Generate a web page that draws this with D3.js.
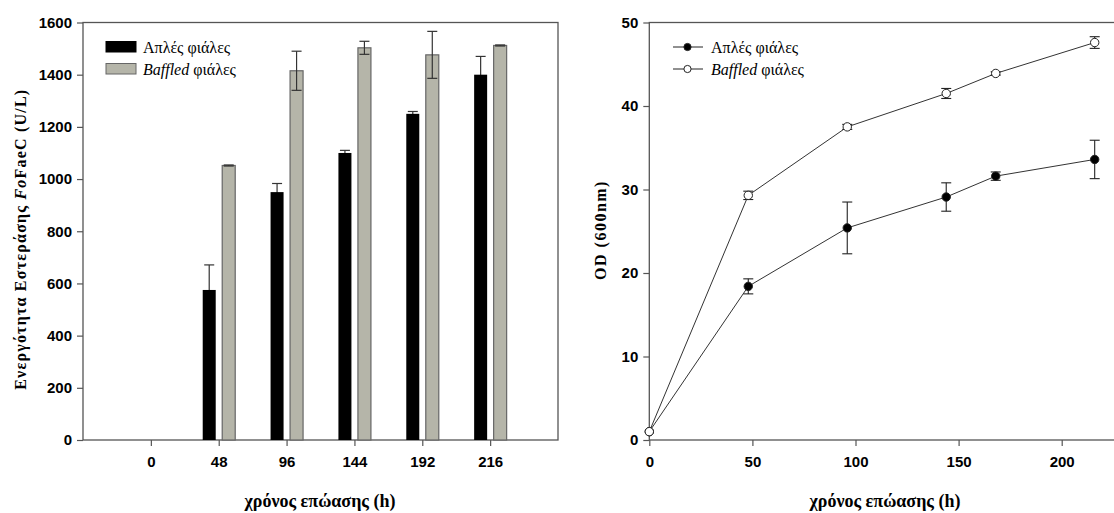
<!DOCTYPE html>
<html>
<head>
<meta charset="utf-8">
<script src="https://cdn.jsdelivr.net/npm/d3@7"></script>
<style>
  body { margin: 0; background: #fff; }
  svg { display: block; }
  .tick text { font-family: "Liberation Sans Narrow", "Arial Narrow", "Liberation Sans", sans-serif; font-weight: bold; font-size: 15px; fill: #000; }
</style>
</head>
<body>
<svg id="chart" width="1114" height="513"></svg>
<script>
// Left panel: esterase activity per sampling time (bars, ± SD)
const barTimes = ['0', '48', '96', '144', '192', '216'];
const plainActivity = [0, 575, 950, 1100, 1250, 1400];
const plainActivityErr = [0, 96, 33, 10, 9, 70];
const baffledActivity = [0, 1052, 1415, 1503, 1476, 1512];
const baffledActivityErr = [0, 2, 75, 25, 90, 2];
const activityTicks = [0, 200, 400, 600, 800, 1000, 1200, 1400, 1600];

// Right panel: OD 600nm growth curves
const odHours = [0, 48, 96, 144, 168, 216];
const plainOD = [1.0, 18.4, 25.4, 29.1, 31.6, 33.6];
const plainODErr = [0, 0.9, 3.1, 1.7, 0.5, 2.3];
const baffledOD = [1.0, 29.3, 37.5, 41.5, 43.9, 47.6];
const baffledODErr = [0, 0.5, 0.3, 0.6, 0.2, 0.7];
const odTicks = [0, 10, 20, 30, 40, 50];
const hourTicks = [0, 50, 100, 150, 200];

const seriesNames = ['Απλές φιάλες', 'Baffled'];

const svg = d3.select('#chart');
const axisColor = '#555';
const grayFill = '#b5b5a9';
const serif = '"Liberation Serif", "Times New Roman", serif';

function styleAxis(g) {
  g.select('.domain').remove();
  g.selectAll('.tick line').attr('stroke', axisColor).attr('stroke-width', 1.2);
}

// legend label: "Baffled" is italic, "φιάλες" upright
function legendLabel(g, x, y, i) {
  const t = g.append('text')
      .attr('x', x).attr('y', y).attr('dy', '0.35em')
      .attr('font-family', serif)
      .attr('font-size', 16);
  if (i === 0) t.text(seriesNames[0]);
  else {
    t.append('tspan').attr('font-style', 'italic').text(seriesNames[1]);
    t.append('tspan').text(' φιάλες');
  }
}

// ---------------- left: bars ----------------
{
  const m = { left: 83, right: 558, top: 22.5, bottom: 440 };
  const x = d3.scalePoint().domain(barTimes).range([m.left, m.right]).padding(1);
  const y = d3.scaleLinear().domain([0, 1600]).range([m.bottom, m.top]);
  const g = svg.append('g');
  const bw = 13;

  // frame
  g.append('rect')
      .attr('x', m.left).attr('y', m.top)
      .attr('width', m.right - m.left).attr('height', m.bottom - m.top)
      .attr('fill', 'none').attr('stroke', axisColor).attr('stroke-width', 1.3);

  g.append('g').attr('transform', `translate(${m.left},0)`)
      .call(d3.axisLeft(y).tickValues(activityTicks).tickFormat(d3.format('d')).tickSize(6).tickPadding(5))
      .call(styleAxis);
  g.append('g').attr('transform', `translate(0,${m.bottom})`)
      .call(d3.axisBottom(x).tickSize(6).tickPadding(10))
      .call(styleAxis);

  const rows = barTimes.map((t, i) => ({ t, a: plainActivity[i], ae: plainActivityErr[i], b: baffledActivity[i], be: baffledActivityErr[i] }))
      .filter(d => d.a > 0 || d.b > 0);

  // error bars (behind bars so the lower half hides in the black bar)
  const cap = 5;
  function errBar(sel, cx, v, e) {
    sel.append('line').attr('x1', cx).attr('x2', cx).attr('y1', y(v - e)).attr('y2', y(v + e));
    sel.append('line').attr('x1', cx - cap).attr('x2', cx + cap).attr('y1', y(v + e)).attr('y2', y(v + e));
    sel.append('line').attr('x1', cx - cap).attr('x2', cx + cap).attr('y1', y(v - e)).attr('y2', y(v - e));
  }
  const eg = g.append('g').attr('stroke', '#333').attr('stroke-width', 1.2);
  rows.forEach(d => errBar(eg, x(d.t) - 16 + bw / 2, d.a, d.ae));

  g.append('g').selectAll('rect').data(rows).join('rect')
      .attr('x', d => x(d.t) - 16).attr('width', bw)
      .attr('y', d => y(d.a)).attr('height', d => y(0) - y(d.a))
      .attr('fill', '#000');
  g.append('g').selectAll('rect').data(rows).join('rect')
      .attr('x', d => x(d.t) + 3.5).attr('width', bw)
      .attr('y', d => y(d.b)).attr('height', d => y(0) - y(d.b))
      .attr('fill', grayFill).attr('stroke', '#666').attr('stroke-width', 1.2);

  const eg2 = g.append('g').attr('stroke', '#333').attr('stroke-width', 1.2);
  rows.forEach(d => errBar(eg2, x(d.t) + 3.5 + bw / 2, d.b, d.be));

  // legend
  const lg = g.append('g');
  [0, 1].forEach(i => {
    lg.append('rect')
        .attr('x', 106).attr('y', 41.5 + i * 22).attr('width', 30).attr('height', 10.5)
        .attr('fill', i === 0 ? '#000' : grayFill)
        .attr('stroke', i === 0 ? '#000' : '#666').attr('stroke-width', 1);
    legendLabel(lg, 143, 47 + i * 22, i);
  });

  // axis titles
  const yt = g.append('text')
      .attr('transform', `translate(26,${(m.top + m.bottom) / 2 + 8}) rotate(-90)`)
      .attr('text-anchor', 'middle')
      .attr('font-family', serif)
      .attr('font-weight', 'bold').attr('font-size', 16).attr('letter-spacing', 1.2);
  yt.append('tspan').text('Ενεργότητα Εστεράσης ');
  yt.append('tspan').attr('font-style', 'italic').text('Fo');
  yt.append('tspan').text('FaeC (U/L)');

  g.append('text')
      .attr('x', 320).attr('y', 507)
      .attr('text-anchor', 'middle')
      .attr('font-family', serif)
      .attr('font-weight', 'bold').attr('font-size', 18)
      .text('χρόνος επώασης (h)');
}

// ---------------- right: OD curves ----------------
{
  const m = { left: 649.3, top: 22.5, bottom: 440 };
  const x = d3.scaleLinear().domain([0, 250]).range([m.left, m.left + 515.5]);
  const y = d3.scaleLinear().domain([0, 50]).range([m.bottom, m.top]);
  const g = svg.append('g');

  g.append('rect')
      .attr('x', m.left).attr('y', m.top)
      .attr('width', x(250) - m.left).attr('height', m.bottom - m.top)
      .attr('fill', 'none').attr('stroke', axisColor).attr('stroke-width', 1.3);

  g.append('g').attr('transform', `translate(${m.left},0)`)
      .call(d3.axisLeft(y).tickValues(odTicks).tickSize(6).tickPadding(5))
      .call(styleAxis);
  g.append('g').attr('transform', `translate(0,${m.bottom})`)
      .call(d3.axisBottom(x).tickValues(hourTicks).tickSize(6).tickPadding(10))
      .call(styleAxis);

  const series = [
    { vals: plainOD, errs: plainODErr, fill: '#000' },
    { vals: baffledOD, errs: baffledODErr, fill: '#fff' }
  ];
  const line = d3.line().x((d, i) => x(odHours[i])).y(d => y(d));
  series.forEach(s => {
    g.append('path').datum(s.vals).attr('d', line)
        .attr('fill', 'none').attr('stroke', '#333').attr('stroke-width', 1);
  });
  series.forEach(s => {
    const eg = g.append('g').attr('stroke', '#222').attr('stroke-width', 1.1);
    s.vals.forEach((v, i) => {
      const e = s.errs[i];
      if (!e) return;
      const cx = x(odHours[i]);
      eg.append('line').attr('x1', cx).attr('x2', cx).attr('y1', y(v - e)).attr('y2', y(v + e));
      eg.append('line').attr('x1', cx - 5).attr('x2', cx + 5).attr('y1', y(v + e)).attr('y2', y(v + e));
      eg.append('line').attr('x1', cx - 5).attr('x2', cx + 5).attr('y1', y(v - e)).attr('y2', y(v - e));
    });
    g.append('g').selectAll('circle').data(s.vals).join('circle')
        .attr('cx', (d, i) => x(odHours[i])).attr('cy', d => y(d)).attr('r', 4.2)
        .attr('fill', s.fill).attr('stroke', '#222').attr('stroke-width', 1);
  });

  // legend
  const lg = g.append('g');
  [0, 1].forEach(i => {
    const ly = 47 + i * 22;
    lg.append('line').attr('x1', 673).attr('x2', 703).attr('y1', ly).attr('y2', ly)
        .attr('stroke', '#222').attr('stroke-width', 1);
    lg.append('circle').attr('cx', 687.5).attr('cy', ly).attr('r', 3.6)
        .attr('fill', i === 0 ? '#000' : '#fff').attr('stroke', '#222');
    legendLabel(lg, 711, ly, i);
  });

  g.append('text')
      .attr('transform', `translate(606,${230}) rotate(-90)`)
      .attr('text-anchor', 'middle')
      .attr('font-family', serif)
      .attr('font-weight', 'bold').attr('font-size', 16).attr('letter-spacing', 1.5)
      .text('OD (600nm)');

  g.append('text')
      .attr('x', 885).attr('y', 507)
      .attr('text-anchor', 'middle')
      .attr('font-family', serif)
      .attr('font-weight', 'bold').attr('font-size', 18)
      .text('χρόνος επώασης (h)');
}
</script>
</body>
</html>
